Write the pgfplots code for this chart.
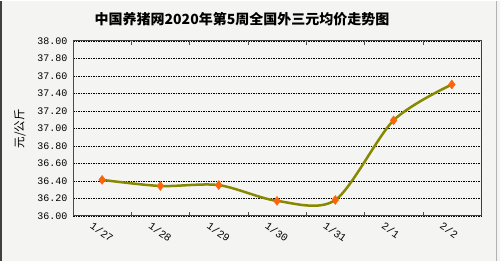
\documentclass[border=0pt]{standalone}
\usepackage{pgfplots}
\pgfplotsset{compat=1.18}
\usepackage{fontspec}
\setmainfont{Noto Sans CJK SC}
\setmonofont{Liberation Mono}
\definecolor{bgc}{RGB}{244,245,242}
\definecolor{linec}{RGB}{136,136,0}
\definecolor{markc}{RGB}{250,100,10}
\definecolor{axgreen}{RGB}{40,100,40}
\begin{document}
\begin{tikzpicture}[x=1pt,y=1pt]
\fill[bgc] (0,0) rectangle (500,260);
\draw[black!75, line width=1.5pt] (1,0) -- (1,260);
\draw[black!30, line width=1pt] (496.5,0) -- (496.5,260);
\node[font=\fontsize{14}{16}\selectfont\bfseries] at (242,242) {中国养猪网2020年第5周全国外三元均价走势图};
\node[font=\fontsize{11.5}{13}\selectfont, rotate=90] at (20,132) {元/公斤};
\begin{axis}[
  at={(73pt,45pt)}, anchor=south west, scale only axis,
  width=408pt, height=175pt,
  xmin=-0.5, xmax=6.5, ymin=36, ymax=38,
  ytick={36,36.2,36.4,36.6,36.8,37,37.2,37.4,37.6,37.8,38},
  yticklabel style={/pgf/number format/fixed, /pgf/number format/fixed zerofill, /pgf/number format/precision=2, /pgf/number format/assume math mode=true},
  yticklabel style={font=\ttfamily\fontsize{10}{12}\selectfont, xshift=-2pt},
  xtick={0,1,2,3,4,5,6},
  xticklabels={1/27,1/28,1/29,1/30,1/31,2/1,2/2},
  xticklabel style={font=\ttfamily\fontsize{10.5}{12}\selectfont, rotate=-35, anchor=north west, xshift=-7pt, yshift=-6pt},
  major x tick style={draw=none},
  minor xtick={0.5,1.5,2.5,3.5,4.5,5.5},
  minor x tick style={black!70},
  minor tick length=4pt,
  ytick style={draw=none},
  tick align=inside,
  ymajorgrids, grid style={black, dashed, line width=0.4pt, dash pattern=on 1.5pt off 1pt},
  axis line style={black!75, line width=0.8pt},
  axis background/.style={fill=bgc},
  clip=false,
]
\addplot[linec, line width=2.5pt, smooth, tension=0.5, mark=diamond*, mark size=4.5pt,
  mark options={fill=markc, draw=markc, line width=0.4pt}]
coordinates {(0,36.41) (1,36.34) (2,36.35) (3,36.17) (4,36.18) (5,37.09) (6,37.50)};
\draw[axgreen, line width=0.8pt] (rel axis cs:0,0) -- (rel axis cs:0,1);
\end{axis}
\end{tikzpicture}
\end{document}
